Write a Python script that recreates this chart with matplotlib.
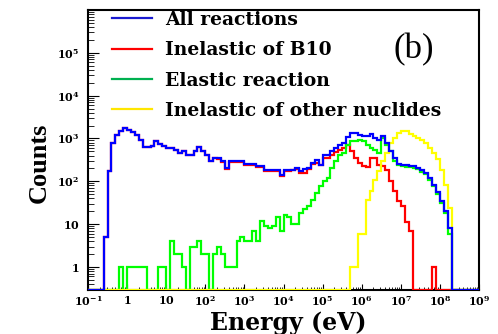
import numpy as np
import matplotlib
matplotlib.use('Agg')
import matplotlib.pyplot as plt
from matplotlib.lines import Line2D
from matplotlib.ticker import LogLocator, NullFormatter

plt.rcParams['mathtext.fontset'] = 'dejavuserif'

# 100 log bins from 1e-1 to 1e9 eV
edges = np.logspace(-1, 9, 101)

all_reactions = [
    0, 0, 0, 0, 5, 175, 790, 1210, 1500, 1780,
    1600, 1450, 1210, 900, 640, 640, 670, 880, 750, 670,
    600, 600, 540, 460, 510, 415, 415, 510, 640, 510,
    415, 300, 350, 350, 300, 205, 300, 300, 300, 300,
    255, 255, 255, 230, 230, 185, 185, 185, 185, 141,
    185, 185, 185, 205, 175, 190, 205, 270, 315, 240,
    415, 415, 510, 600, 700, 790, 1100, 1350, 1350, 1210,
    1150, 1150, 1250, 1030, 900, 1150, 790, 510, 350, 260,
    240, 235, 230, 225, 205, 180, 158, 120, 83, 55,
    35, 20, 8, 0, 0, 0, 0, 0, 0, 0]

inelastic_b10 = [
    0, 0, 0, 0, 5, 175, 790, 1210, 1500, 1780,
    1600, 1450, 1210, 900, 640, 640, 670, 880, 750, 670,
    600, 600, 540, 460, 510, 415, 415, 510, 640, 510,
    415, 300, 350, 330, 290, 190, 290, 290, 285, 280,
    245, 240, 240, 215, 215, 175, 170, 170, 175, 135,
    175, 175, 180, 190, 160, 160, 190, 250, 270, 240,
    350, 350, 415, 480, 540, 600, 710, 500, 350, 270,
    230, 220, 350, 350, 240, 230, 180, 100, 60, 35,
    26, 11, 7, 0, 0, 0, 0, 0, 1, 0,
    0, 0, 0, 0, 0, 0, 0, 0, 0, 0]

elastic = [
    0, 0, 0, 0, 0, 0, 0, 0, 1, 0,
    1, 1, 1, 1, 1, 0, 0, 0, 1, 1,
    0, 4, 2, 2, 1, 0, 3, 3, 4, 2,
    2, 0, 2, 3, 2, 1, 1, 1, 4, 5,
    4, 4, 7, 4, 12, 9, 8, 9, 15, 7,
    16, 15, 10, 10, 18, 22, 27, 37, 54, 78,
    100, 120, 205, 300, 415, 460, 700, 880, 880, 930,
    880, 700, 600, 540, 460, 1000, 700, 500, 300, 240,
    225, 220, 215, 200, 190, 165, 145, 110, 78, 50,
    32, 18, 6, 0, 0, 0, 0, 0, 0, 0]

inelastic_other = [
    0, 0, 0, 0, 0, 0, 0, 0, 0, 0,
    0, 0, 0, 0, 0, 0, 0, 0, 0, 0,
    0, 0, 0, 0, 0, 0, 0, 0, 0, 0,
    0, 0, 0, 0, 0, 0, 0, 0, 0, 0,
    0, 0, 0, 0, 0, 0, 0, 0, 0, 0,
    0, 0, 0, 0, 0, 0, 0, 0, 0, 0,
    0, 0, 0, 0, 0, 0, 0, 1, 1, 6,
    6, 37, 60, 107, 175, 300, 450, 790, 1030, 1350,
    1500, 1500, 1250, 1150, 1030, 930, 790, 600, 460, 330,
    185, 80, 24, 0, 0, 0, 0, 0, 0, 0]

labels = ['All reactions', 'Inelastic of B10', 'Elastic reaction',
          'Inelastic of other nuclides']
legend_colors = ['#1a1ad0', '#ff0000', '#00b050', '#ffe600']

xticks = [1e-1, 1, 10, 1e2, 1e3, 1e4, 1e5, 1e6, 1e7, 1e8, 1e9]
xticklabels = [r'$\mathbf{10^{-1}}$', r'$\mathbf{1}$', r'$\mathbf{10}$',
               r'$\mathbf{10^{2}}$', r'$\mathbf{10^{3}}$', r'$\mathbf{10^{4}}$',
               r'$\mathbf{10^{5}}$', r'$\mathbf{10^{6}}$', r'$\mathbf{10^{7}}$',
               r'$\mathbf{10^{8}}$', r'$\mathbf{10^{9}}$']
yticks = [1, 10, 1e2, 1e3, 1e4, 1e5]
yticklabels = [r'$\mathbf{1}$', r'$\mathbf{10}$', r'$\mathbf{10^{2}}$',
               r'$\mathbf{10^{3}}$', r'$\mathbf{10^{4}}$', r'$\mathbf{10^{5}}$']

ymin, ymax = 0.29, 1e6

fig = plt.figure(figsize=(4.98, 3.34), dpi=100)
ax = fig.add_axes([88 / 498, 44 / 334, 391 / 498, 280 / 334])

# draw order: blue on top (as in the ROOT canvas); empty bins sit on the axis
for vals, col in [(inelastic_b10, '#ff0000'), (elastic, '#00ff00'),
                  (inelastic_other, '#ffff00'), (all_reactions, '#0000ff')]:
    v = np.array(vals, dtype=float)
    v = np.where(v > 0, v, ymin)
    ax.stairs(v, edges, baseline=None, color=col, lw=1.6, zorder=3)

ax.set_xscale('log')
ax.set_yscale('log')
ax.set_xlim(1e-1, 1e9)
ax.set_ylim(ymin, ymax)

ax.set_xticks(xticks, labels=xticklabels)
ax.set_yticks(yticks, labels=yticklabels)
ax.xaxis.set_minor_locator(LogLocator(base=10, subs=np.arange(2, 10), numticks=30))
ax.yaxis.set_minor_locator(LogLocator(base=10, subs=np.arange(2, 10), numticks=30))
ax.xaxis.set_minor_formatter(NullFormatter())
ax.yaxis.set_minor_formatter(NullFormatter())

ax.tick_params(axis='x', which='major', direction='in', length=4, width=0.8,
               labelsize=8, pad=3)
ax.tick_params(axis='x', which='minor', direction='in', length=2, width=0.6)
ax.tick_params(axis='y', which='major', direction='in', length=8, width=0.8,
               labelsize=8, pad=6)
ax.tick_params(axis='y', which='minor', direction='in', length=4.5, width=0.6)

for s in ax.spines.values():
    s.set_linewidth(1.5)

handles = [Line2D([], [], color=c, lw=1.6) for c in legend_colors]
ax.legend(handles, labels, loc='upper left', bbox_to_anchor=(0.061, 0.997),
          frameon=False, borderpad=0, borderaxespad=0,
          handlelength=2.13, handletextpad=0.7, labelspacing=0.66,
          prop={'family': 'DejaVu Serif', 'weight': 'bold', 'size': 13.5})

fig.text(414 / 498, 1 - 50 / 334, '(b)', ha='center', va='center',
         family='Liberation Serif', size=25)
fig.text(39 / 498, 1 - 163 / 334, 'Counts', rotation=90, ha='center',
         va='center', family='Liberation Serif', weight='bold', size=19)
fig.text(288 / 498, 1 - 330 / 334, 'Energy (eV)', ha='center', va='baseline',
         family='DejaVu Serif', weight='bold', size=17)

fig.savefig('out.png', dpi=100)
